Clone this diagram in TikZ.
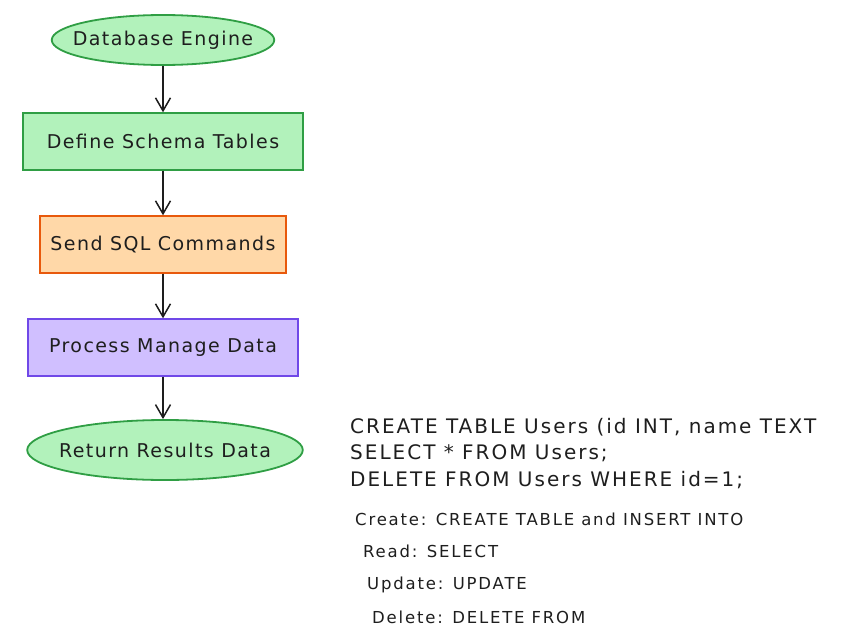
\documentclass[tikz,border=0pt]{standalone}
\usepackage{fontspec}
\setmainfont{DejaVu Sans}
\usetikzlibrary{shapes.geometric,arrows.meta}
\definecolor{gfill}{HTML}{B2F2BB}
\definecolor{gline}{HTML}{2F9E44}
\definecolor{ofill}{HTML}{FFD8A8}
\definecolor{oline}{HTML}{E8590C}
\definecolor{pfill}{HTML}{D0BFFF}
\definecolor{pline}{HTML}{7048E8}
\definecolor{ink}{HTML}{1E1E1E}
\tikzset{
  lbl/.style={font=\fontsize{19}{22}\selectfont\addfontfeature{LetterSpace=7.5}, text=ink},
  term/.style={ellipse, draw=gline, fill=gfill, line width=1.8pt, inner ysep=0pt, lbl},
  procbox/.style={rectangle, draw=#1, line width=1.4pt, inner sep=0pt, lbl},
  conn/.style={draw=ink, line width=1.5pt, -{Straight Barb[length=13pt,width=15pt,line width=1.5pt]}},
  codebig/.style={anchor=west, font=\fontsize{20}{24}\selectfont\addfontfeature{LetterSpace=10}, text=ink, inner sep=0pt},
  codesmall/.style={anchor=west, font=\fontsize{16.5}{20}\selectfont\addfontfeature{LetterSpace=11}, text=ink, inner sep=0pt}
}
\begin{document}
\begin{tikzpicture}[x=1pt,y=-1pt]
\useasboundingbox (0,0) rectangle (864,642);
\node[term, inner xsep=-11.5pt, minimum height=50pt] (eng) at (163,40) {Database Engine};
\node[procbox=gline, fill=gfill, minimum width=280pt, minimum height=57pt] (def) at (163,141.5) {Define Schema Tables};
\node[procbox=oline, fill=ofill, minimum width=246pt, minimum height=57pt] (sql) at (163,244.5) {Send SQL Commands};
\node[procbox=pline, fill=pfill, minimum width=270pt, minimum height=57pt] (proc) at (163,347.5) {Process Manage Data};
\node[term, inner xsep=-8.5pt, minimum height=60pt] (ret) at (165,450) {Return Results Data};
\draw[conn] (eng.south) -- (def.north);
\draw[conn] (def.south) -- (sql.north);
\draw[conn] (sql.south) -- (proc.north);
\draw[conn] (proc.south) -- (proc.south |- ret.north);
\node[codebig] (c1) at (350,427) {CREATE TABLE Users (id INT, name TEXT};
\node[codebig] (c2) at (350,453) {SELECT * FROM Users;};
\node[codebig] (c3) at (350,480) {DELETE FROM Users WHERE id=1;};
\node[codesmall] (n1) at (355,519) {Create: CREATE TABLE and INSERT INTO};
\node[codesmall] (n2) at (363,551) {Read: SELECT};
\node[codesmall] (n3) at (367,585) {Update: UPDATE};
\node[codesmall] (n4) at (372,617) {Delete: DELETE FROM};
\end{tikzpicture}
\end{document}
